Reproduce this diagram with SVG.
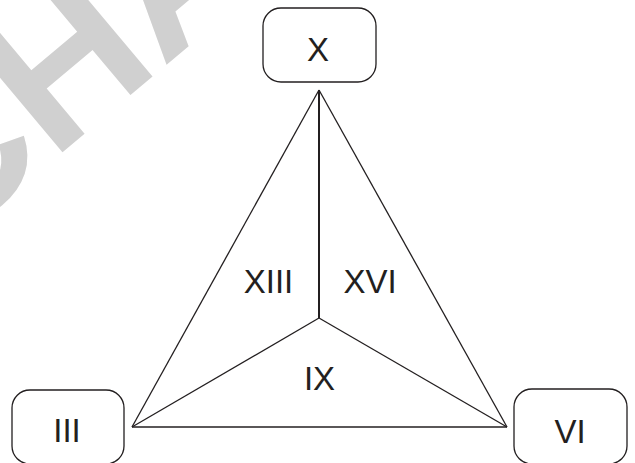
<svg xmlns="http://www.w3.org/2000/svg" width="635" height="463" viewBox="0 0 635 463">
<style>
.box{fill:#fff;stroke:#231f20;stroke-width:1.3}
.lbl{font-family:"Liberation Sans",Arial,sans-serif;font-size:33px;fill:#231f20;text-anchor:middle}
.edge{stroke:#231f20;stroke-width:1.3;fill:none}
.wm{font-family:"Liberation Sans",Arial,sans-serif;font-weight:bold;font-size:200px;fill:#d0d0d0}
</style>
<rect width="635" height="463" fill="#fff"/>
<text class="wm" transform="translate(-58.5,253.7) rotate(-40)">CHA</text>
<g id="connectors">
<line class="edge" x1="319" y1="90" x2="132" y2="427"/>
<line class="edge" x1="319" y1="90" x2="507" y2="427"/>
<line class="edge" x1="132" y1="427" x2="507" y2="427"/>
<line class="edge" x1="319" y1="318" x2="132" y2="427"/>
<line class="edge" x1="319" y1="318" x2="507" y2="427"/>
<line class="edge" style="stroke-width:2" x1="319" y1="90" x2="319" y2="318"/>
</g>
<g id="node-X"><rect class="box" x="263" y="8" width="113" height="74" rx="18"/><text class="lbl" x="318" y="61">X</text></g>
<g id="node-III"><rect class="box" x="12" y="390" width="112" height="74" rx="18"/><text class="lbl" x="67" y="442">III</text></g>
<g id="node-VI"><rect class="box" x="514" y="389" width="113" height="75" rx="18"/><text class="lbl" x="570" y="443">VI</text></g>
<g id="region-XIII"><text class="lbl" x="268.5" y="293">XIII</text></g>
<g id="region-XVI"><text class="lbl" x="370" y="293">XVI</text></g>
<g id="region-IX"><text class="lbl" x="319.5" y="390">IX</text></g>
</svg>
